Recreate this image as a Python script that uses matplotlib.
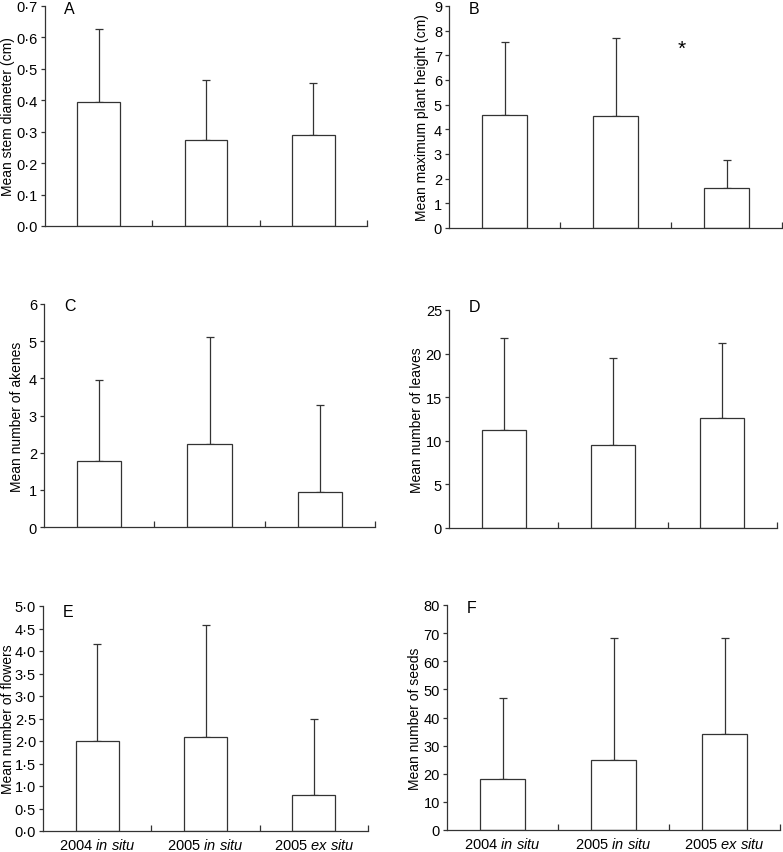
import matplotlib.pyplot as plt

plt.rcParams['font.family'] = ['Liberation Sans', 'DejaVu Sans']
plt.rcParams['mathtext.fontset'] = 'custom'
plt.rcParams['mathtext.rm'] = 'Liberation Sans'
plt.rcParams['mathtext.it'] = 'Liberation Sans:italic'

groups = ['2004 $\\mathit{in\\ situ}$', '2005 $\\mathit{in\\ situ}$', '2005 $\\mathit{ex\\ situ}$']

stem_mean = [0.395, 0.274, 0.291]
stem_err = [0.231, 0.190, 0.163]
height_mean = [4.58, 4.54, 1.64]
height_err = [2.96, 3.18, 1.13]
akene_mean = [1.78, 2.24, 0.93]
akene_err = [2.18, 2.86, 2.36]
leaf_mean = [11.2, 9.5, 12.6]
leaf_err = [10.6, 10.0, 8.6]
flower_mean = [2.0, 2.1, 0.81]
flower_err = [2.16, 2.47, 1.67]
seed_mean = [18.3, 24.9, 34.1]
seed_err = [28.6, 43.5, 34.2]

stem_ticks = [0, 0.1, 0.2, 0.3, 0.4, 0.5, 0.6, 0.7]
height_ticks = [0, 1, 2, 3, 4, 5, 6, 7, 8, 9]
akene_ticks = [0, 1, 2, 3, 4, 5, 6]
leaf_ticks = [0, 5, 10, 15, 20, 25]
flower_ticks = [0, 0.5, 1.0, 1.5, 2.0, 2.5, 3.0, 3.5, 4.0, 4.5, 5.0]
seed_ticks = [0, 10, 20, 30, 40, 50, 60, 70, 80]

panels = [
    ('A', 'Mean stem diameter (cm)', stem_mean, stem_err, stem_ticks, 1),
    ('B', 'Mean maximum plant height (cm)', height_mean, height_err, height_ticks, 0),
    ('C', 'Mean number of akenes', akene_mean, akene_err, akene_ticks, 0),
    ('D', 'Mean number of leaves', leaf_mean, leaf_err, leaf_ticks, 0),
    ('E', 'Mean number of flowers', flower_mean, flower_err, flower_ticks, 1),
    ('F', 'Mean number of seeds', seed_mean, seed_err, seed_ticks, 0),
]

# axes boxes in pixels: left, top, right, bottom
boxes = [
    (45, 7, 367, 227),
    (449, 7, 782, 229),
    (44, 305, 375, 528),
    (449, 311, 777, 529),
    (43, 607, 368, 832),
    (447, 606, 780, 831),
]
letter_y = [0.99, 0.99, 0.995, 1.015, 0.977, 0.987]
label_x = [8, 422, 17, 417, 8, 415]  # y-label centre, pixels

W, H = 783, 853
fig = plt.figure(figsize=(W / 100, H / 100), dpi=100)
lc = '#333333'
x = [1, 2, 3]

for k, (letter, ylab, mean, err, ticks, dec) in enumerate(panels):
    l, t, r, b = boxes[k]
    ax = fig.add_axes([l / W, 1 - b / H, (r - l) / W, (b - t) / H])
    ax.bar(x, mean, width=0.4, color='white', edgecolor=lc, linewidth=0.9, zorder=2)
    ax.errorbar(x, mean, yerr=[[0, 0, 0], err], fmt='none', ecolor=lc,
                elinewidth=0.9, capsize=2.6, capthick=0.9, zorder=1)
    ax.set_xlim(0.5, 3.5)
    ax.set_ylim(ticks[0], ticks[-1])
    ax.set_yticks(ticks)
    if dec:
        ax.set_yticklabels([('%.1f' % v).replace('.', '\u00b7') for v in ticks])
    else:
        ax.set_yticklabels([str(v) for v in ticks])
    ax.set_xticks([1.5, 2.5, 3.5])
    ax.set_xticklabels([])
    ax.set_xticks(x, minor=True)
    if k >= 4:
        ax.set_xticklabels(groups, minor=True)
    ax.tick_params(axis='x', which='major', direction='in', length=4, width=0.9, color=lc)
    ax.tick_params(axis='x', which='minor', length=0, pad=4, labelsize=10.5)
    ax.tick_params(axis='y', direction='out', length=3, width=0.9, color=lc,
                   labelsize=10.5, pad=2)
    for s in ['top', 'right']:
        ax.spines[s].set_visible(False)
    for s in ['left', 'bottom']:
        ax.spines[s].set_color(lc)
        ax.spines[s].set_linewidth(0.9)
    ax.set_ylabel(ylab, fontsize=10, va='center')
    ax.yaxis.set_label_coords((label_x[k] - l) / (r - l), 0.5)
    ax.text(0.06, letter_y[k], letter, transform=ax.transAxes, fontsize=11.5,
            va='center', ha='left')
    if letter == 'B':
        ax.text(2.6, 7.3, '*', fontsize=15, ha='center', va='center')

fig.savefig('out.png', dpi=100)
